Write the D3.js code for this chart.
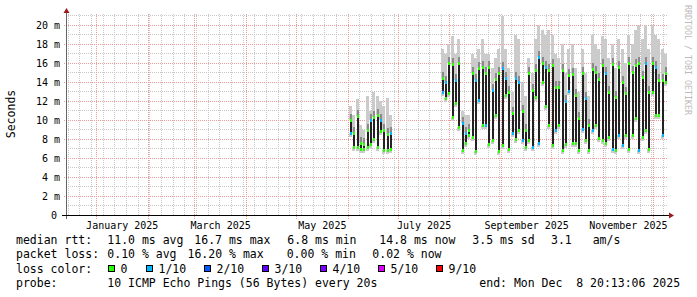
<!DOCTYPE html>
<html>
<head>
<meta charset="utf-8">
<script src="https://cdn.jsdelivr.net/npm/d3@7"></script>
<style>
body { margin: 0; background: #fff; }
text { font-family: "DejaVu Sans Mono", monospace; white-space: pre; }
</style>
</head>
<body>
<div id="chart"></div>
<script>
// smokeping style latency graph, last 360 days

// two stretches of data, one bin every 2 days
const segStart = ["2025-06-02", "2025-07-27"];
const segCount = [13, 68];

// median rtt band per bin (ms): upper and lower median, top of the smoke
const medHigh = [
  10.0, 8.6, 10.4, 7.6, 7.5, 8.9, 10.0, 10.3, 10.5, 10.0, 9.0, 8.5, 8.6,
  14.4, 14.0, 16.0, 15.9, 14.2, 16.0, 9.7, 8.6, 8.9, 15.0, 14.2, 15.5, 15.6, 15.0, 15.6, 13.2, 14.3, 15.0,
  15.5, 14.4, 13.0, 10.7, 14.4, 14.0, 11.0, 9.0, 14.9, 13.2, 15.3, 16.6, 16.0, 15.6, 15.3, 15.8, 13.5,
  13.5, 15.3, 12.0, 14.7, 14.8, 12.6, 10.2, 14.9, 12.3, 9.5, 15.4, 15.1, 14.3, 15.8, 15.0, 13.0, 15.9,
  12.4, 15.6, 14.0, 12.8, 16.0, 15.1, 15.8, 16.0, 14.5, 16.0, 13.0, 16.0, 15.6, 14.2, 14.2, 15.0
];
const medLow = [
  8.6, 7.2, 7.2, 6.9, 6.9, 7.2, 7.5, 8.0, 7.2, 8.8, 6.8, 6.8, 6.9,
  13.0, 12.3, 12.8, 10.3, 11.8, 9.3, 6.8, 7.6, 8.4, 8.2, 6.7, 12.1, 9.5, 9.5, 7.5, 7.9, 10.5, 6.7,
  7.4, 12.6, 6.9, 8.6, 8.0, 8.9, 7.9, 7.2, 7.9, 7.2, 12.4, 7.6, 14.0, 11.5, 9.5, 7.4, 9.0,
  9.5, 6.8, 7.5, 13.1, 7.6, 7.6, 6.8, 9.1, 7.9, 6.8, 8.9, 9.5, 8.1, 7.9, 7.6, 8.2, 7.0,
  6.8, 8.4, 7.4, 8.4, 7.0, 8.4, 10.2, 6.8, 8.2, 8.9, 7.0, 13.0, 10.5, 10.5, 8.4, 14.0
];
const smokeTop = [
  11.5, 10.5, 12.2, 9.5, 9.0, 12.5, 11.0, 13.0, 12.5, 12.0, 11.5, 12.3, 10.5,
  17.5, 17.0, 18.0, 18.8, 17.0, 18.5, 11.0, 10.5, 10.5, 17.0, 16.5, 17.5, 18.5, 17.0, 17.0, 15.5, 16.5, 17.5,
  21.0, 17.5, 15.5, 13.0, 19.0, 18.5, 14.0, 12.5, 16.5, 15.0, 18.5, 20.0, 19.5, 19.0, 19.5, 19.0, 17.0,
  16.5, 18.0, 15.0, 17.5, 18.0, 15.5, 13.0, 17.5, 15.0, 12.5, 19.0, 18.0, 17.5, 18.8, 18.5, 16.5, 18.0,
  15.5, 18.5, 17.5, 16.0, 19.0, 18.0, 19.5, 20.0, 18.5, 20.0, 17.5, 20.0, 19.0, 18.5, 17.5, 17.0
];
// loss class at the upper / lower median (0 = none, 1 = 1/10)
const lossHigh = [
  0, 0, 0, 0, 0, 0, 1, 0, 0, 1, 0, 0, 1,
  0, 1, 0, 0, 1, 0, 1, 1, 0, 0, 1, 0, 0, 0, 0, 1, 0, 0,
  1, 1, 0, 0, 1, 1, 0, 0, 0, 0, 0, 1, 0, 1, 0, 0, 0,
  0, 0, 1, 0, 0, 0, 0, 0, 1, 0, 0, 0, 0, 0, 1, 0, 0,
  0, 0, 0, 0, 0, 0, 0, 0, 0, 1, 0, 0, 1, 0, 0, 0
];
const lossLow = [
  1, 0, 0, 0, 0, 0, 0, 0, 0, 0, 0, 0, 0,
  1, 0, 0, 0, 0, 0, 0, 0, 0, 0, 0, 1, 0, 1, 0, 0, 0, 0,
  0, 0, 0, 1, 0, 0, 1, 0, 0, 1, 0, 1, 0, 0, 0, 0, 1,
  0, 0, 0, 1, 0, 0, 0, 1, 0, 0, 1, 0, 0, 0, 0, 0, 1,
  0, 1, 1, 0, 0, 0, 0, 1, 0, 0, 0, 0, 0, 0, 1, 0
];

const yTicks = [0, 2, 4, 6, 8, 10, 12, 14, 16, 18, 20];
const lossColors = ["#26ff00", "#00b8ff", "#0059ff", "#5e00ff", "#7e00ff", "#dd00ff", "#ff0000"];
const lossLabels = ["0", "1/10", "2/10", "3/10", "4/10", "5/10", "9/10"];

const W = 697, H = 297;
const svg = d3.select("#chart").append("svg")
    .attr("width", W)
    .attr("height", H)
    .attr("shape-rendering", "crispEdges");
svg.append("rect").attr("width", W).attr("height", H).attr("fill", "#fff");

const x = d3.scaleTime()
    .domain([new Date(2024, 11, 14, 9), new Date(2025, 11, 9, 4)])
    .range([67, 667]);
const y = d3.scaleLinear()
    .domain([0, 21.3])
    .range([215, 12.65]);
const row = v => Math.round(v - 0.5);

// dotted grid: one pixel on, one pixel off, done with tiny patterns
const defs = svg.append("defs");
function dots(id, col, horiz) {
    const p = defs.append("pattern").attr("id", id)
        .attr("patternUnits", "userSpaceOnUse")
        .attr("width", horiz ? 2 : 1).attr("height", horiz ? 1 : 2);
    p.append("rect").attr("width", 1).attr("height", 1).attr("fill", col);
}
dots("hmin", "#c8c8c8", true);
dots("vmin", "#c8c8c8", false);
dots("hmaj", "#ec9a9a", true);
dots("vmaj", "#ec9a9a", false);

const minorY = d3.range(1, 22);
const weeks = d3.timeWeek.range(x.domain()[0], x.domain()[1]);
const months = d3.timeMonth.range(x.domain()[0], x.domain()[1]);

const grid = svg.append("g");
grid.selectAll(".hmin").data(minorY).enter().append("rect")
    .attr("class", "hmin")
    .attr("x", 67).attr("width", 600)
    .attr("y", d => row(y(d))).attr("height", 1)
    .attr("fill", "url(#hmin)");
grid.selectAll(".vmin").data(weeks).enter().append("rect")
    .attr("class", "vmin")
    .attr("x", d => row(x(d))).attr("width", 1)
    .attr("y", 13).attr("height", 202)
    .attr("fill", "url(#vmin)");
grid.selectAll(".hmaj").data(yTicks.slice(1)).enter().append("rect")
    .attr("class", "hmaj")
    .attr("x", 63).attr("width", 604)
    .attr("y", d => row(y(d))).attr("height", 1)
    .attr("fill", "url(#hmaj)");
grid.selectAll(".vmaj").data(months).enter().append("rect")
    .attr("class", "vmaj")
    .attr("x", d => row(x(d))).attr("width", 1)
    .attr("y", 13).attr("height", 207)
    .attr("fill", "url(#vmaj)");

//data
const bins = [];
let k = 0;
segStart.forEach((s, si) => {
    const t0 = new Date(s + "T00:00:00");
    for (let j = 0; j < segCount[si]; j++, k++) {
        bins.push({
            t: d3.timeDay.offset(t0, j * 2),
            hi: medHigh[k], lo: medLow[k], top: smokeTop[k],
            lh: lossHigh[k], ll: lossLow[k]
        });
    }
});

const plot = svg.append("g");
// light smoke above the medians, a little below too
plot.selectAll(".smoke").data(bins).enter().append("rect")
    .attr("class", "smoke")
    .attr("x", d => Math.round(x(d.t)) - 1)
    .attr("width", 3)
    .attr("y", d => y(d.top))
    .attr("height", d => y(d.hi) - y(d.top))
    .attr("fill", "#cbcbcb");
plot.selectAll(".smokelo").data(bins).enter().append("rect")
    .attr("class", "smokelo")
    .attr("x", d => Math.round(x(d.t)) - 1)
    .attr("width", 3)
    .attr("y", d => y(d.lo))
    .attr("height", 4)
    .attr("fill", "#cbcbcb");
// denser smoke near the upper median
plot.selectAll(".smoke2").data(bins).enter().append("rect")
    .attr("class", "smoke2")
    .attr("x", d => Math.round(x(d.t)))
    .attr("width", 2)
    .attr("y", d => y(d.hi) - 6)
    .attr("height", 6)
    .attr("fill", "#8a8a8a");
plot.selectAll(".bar").data(bins).enter().append("rect")
    .attr("class", "bar")
    .attr("x", d => Math.round(x(d.t)))
    .attr("width", 2)
    .attr("y", d => y(d.hi))
    .attr("height", d => y(d.lo) - y(d.hi))
    .attr("fill", "#222");
plot.selectAll(".dhi").data(bins).enter().append("rect")
    .attr("class", "dhi")
    .attr("x", d => Math.round(x(d.t)))
    .attr("width", 2).attr("height", 3)
    .attr("y", d => Math.round(y(d.hi)) - 1)
    .attr("fill", d => lossColors[d.lh]);
plot.selectAll(".dlo").data(bins).enter().append("rect")
    .attr("class", "dlo")
    .attr("x", d => Math.round(x(d.t)))
    .attr("width", 2).attr("height", 3)
    .attr("y", d => Math.round(y(d.lo)) - 1)
    .attr("fill", d => lossColors[d.ll]);

//axes
svg.append("rect").attr("x", 66).attr("width", 1).attr("y", 12).attr("height", 207)
    .attr("fill", "#666");
svg.append("path").attr("d", "M63.5,13 L66.5,8 L69.5,13 Z").attr("fill", "#9b1c1c")
    .attr("shape-rendering", "auto");
svg.append("rect").attr("x", 62).attr("width", 608).attr("y", 215).attr("height", 1)
    .attr("fill", "#000");
svg.append("path").attr("d", "M669,212.5 L674,215.5 L669,218.5 Z").attr("fill", "#9b1c1c")
    .attr("shape-rendering", "auto");

//tick labels
const txt = svg.append("g").attr("shape-rendering", "auto");
txt.selectAll(".ylab").data(yTicks).enter().append("text")
    .attr("class", "ylab")
    .attr("x", d => d === 0 ? 57 : 60)
    .attr("y", d => y(d) + 3.5)
    .attr("text-anchor", "end")
    .attr("font-size", "10px")
    .text(d => d === 0 ? "0" : d + " m");

const labMonths = months.filter(m => m.getFullYear() === 2025 && m.getMonth() % 2 === 0);
const fmt = d3.timeFormat("%B %Y");
txt.selectAll(".xlab").data(labMonths).enter().append("text")
    .attr("class", "xlab")
    .attr("x", d => (x(d) + x(d3.timeMonth.offset(d, 1))) / 2)
    .attr("y", 228.5)
    .attr("text-anchor", "middle")
    .attr("font-size", "10px")
    .text(d => fmt(d));

txt.append("text")
    .attr("transform", "translate(15,114) rotate(-90)")
    .attr("text-anchor", "middle")
    .attr("font-size", "11.5px")
    .text("Seconds");

txt.append("text")
    .attr("transform", "translate(684.5,5) rotate(90)")
    .attr("font-size", "8.3px")
    .attr("fill", "#bbb")
    .text("RRDTOOL / TOBI OETIKER");

//legend
const leg = txt.append("g").attr("font-size", "11.5px");
function put(t, xx, yy) {
    leg.append("text").attr("x", xx).attr("y", yy).text(t);
}
put("median rtt:", 16, 244);
put("11.0 ms avg", 107.3, 244);
put("16.7 ms max", 194.3, 244);
put("6.8 ms min", 287.3, 244);
put("14.8 ms now", 379.3, 244);
put("3.5 ms sd", 472.3, 244);
put("3.1", 551, 244);
put("am/s", 592.7, 244);

put("packet loss:", 16, 258.3);
put("0.10 % avg", 107.3, 258.3);
put("16.20 % max", 187.5, 258.3);
put("0.00 % min", 286.7, 258.3);
put("0.02 % now", 372.3, 258.3);

put("loss color:", 16, 272.6);
const boxX = [108, 146, 204, 262, 320, 378, 436];
lossColors.forEach((c, i) => {
    leg.append("rect")
        .attr("x", boxX[i]).attr("y", 265)
        .attr("width", 7).attr("height", 7)
        .attr("fill", "#000");
    leg.append("rect")
        .attr("x", boxX[i] + 1).attr("y", 266)
        .attr("width", 5).attr("height", 5)
        .attr("fill", c);
    put(lossLabels[i], boxX[i] + 12.5, 272.6);
});

put("probe:", 16, 286.9);
put("10 ICMP Echo Pings (56 Bytes) every 20s", 107.3, 286.9);
put("end: Mon Dec  8 20:13:06 2025", 479.3, 286.9);
</script>
</body>
</html>
